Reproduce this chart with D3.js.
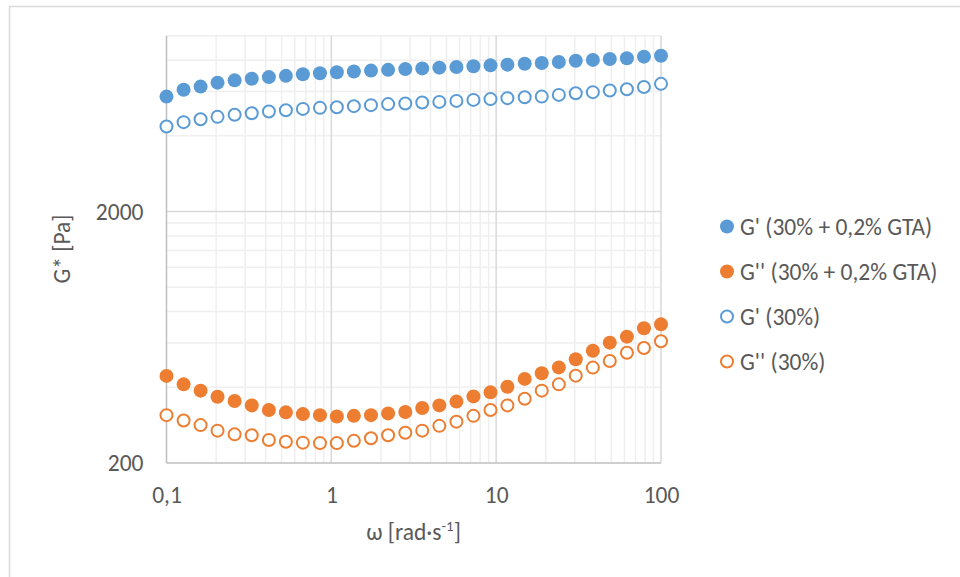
<!DOCTYPE html>
<html>
<head>
  <meta charset="utf-8">
  <title>G* vs omega</title>
  <script src="https://d3js.org/d3.v7.min.js"></script>
  <style>
    body { margin: 0; background: #fff; font-family: Carlito, Lato, sans-serif; }
    text { fill: #595959; font-size: 23.5px; }
    .grid-minor { stroke: #efefef; stroke-width: 1.5; }
    .grid-major { stroke: #d9d9d9; stroke-width: 1.5; }
    .axis-line { stroke: #bfbfbf; stroke-width: 1.5; }
  </style>
</head>
<body>
  <div id="chart"></div>
  <script>
    // frequency (rad/s)
    const omega = [0.1, 0.127, 0.161, 0.204, 0.259, 0.329, 0.418, 0.530, 0.672, 0.853,
                   1.08, 1.37, 1.74, 2.21, 2.81, 3.56, 4.52, 5.74, 7.28, 9.24,
                   11.7, 14.9, 18.9, 24.0, 30.4, 38.6, 48.9, 62.1, 78.8, 100];

    const gStorageGta = [5730, 6100, 6280, 6510, 6650, 6750, 6850, 6930, 7030, 7100,
                         7160, 7210, 7270, 7320, 7370, 7420, 7470, 7510, 7570, 7630,
                         7680, 7740, 7790, 7870, 7960, 8020, 8090, 8140, 8260, 8330];
    const gLossGta = [444, 411, 388, 367, 353, 339, 325, 318, 313, 310,
                      306, 308, 310, 315, 319, 331, 339, 351, 368, 382,
                      402, 432, 455, 480, 517, 559, 602, 636, 687, 712];
    const gStorage = [4360, 4535, 4660, 4760, 4850, 4920, 5000, 5060, 5120, 5170,
                      5200, 5250, 5300, 5350, 5380, 5430, 5460, 5510, 5560, 5600,
                      5650, 5700, 5730, 5820, 5910, 5970, 6060, 6130, 6260, 6440];
    const gLoss = [310, 295, 283, 269, 260, 258, 247, 243, 241, 240,
                   240, 245, 251, 258, 264, 269, 281, 292, 308, 325,
                   339, 360, 388, 411, 445, 479, 509, 549, 573, 610];

    const seriesNames = ["G' (30% + 0,2% GTA)", "G'' (30% + 0,2% GTA)", "G' (30%)", "G'' (30%)"];
    const seriesValues = [gStorageGta, gLossGta, gStorage, gLoss];
    const seriesColors = ["#5b9bd5", "#ed7d31", "#5b9bd5", "#ed7d31"];
    const seriesFilled = [true, true, false, false];

    const xTicks = [0.1, 1, 10, 100];
    const xTickLabels = ["0,1", "1", "10", "100"];
    const yTicks = [200, 2000];
    const yTickLabels = ["200", "2000"];
    const xMinor = [0.2, 0.3, 0.4, 0.5, 0.6, 0.7, 0.8, 0.9, 2, 3, 4, 5, 6, 7, 8, 9, 20, 30, 40, 50, 60, 70, 80, 90];
    const yMinor = [400, 600, 800, 1000, 1200, 1400, 1600, 1800, 4000, 6000, 8000, 10000];

    const W = 960, H = 577;
    const plot = {left: 166.5, right: 661, top: 35.8, bottom: 463};

    const svg = d3.select("#chart").append("svg")
      .attr("width", W)
      .attr("height", H);

    // chart border (right/bottom run off the picture)
    svg.append("path")
      .attr("d", `M9.5,${H + 5}V6.5H${W + 5}`)
      .attr("fill", "none")
      .attr("stroke", "#d9d9d9")
      .attr("stroke-width", 1.5);

    const x = d3.scaleLog().domain([0.1, 100]).range([plot.left, plot.right]);
    const y = d3.scaleLog().domain([200, 10000]).range([plot.bottom, plot.top]);

    // gridlines
    const grid = svg.append("g");
    grid.selectAll(".gx-minor").data(xMinor).join("line")
      .attr("class", "grid-minor")
      .attr("x1", d => x(d)).attr("x2", d => x(d))
      .attr("y1", plot.top).attr("y2", plot.bottom);
    grid.selectAll(".gy-minor").data(yMinor).join("line")
      .attr("class", "grid-minor")
      .attr("x1", plot.left).attr("x2", plot.right)
      .attr("y1", d => y(d)).attr("y2", d => y(d));
    grid.selectAll(".gx-major").data(xTicks.slice(1)).join("line")
      .attr("class", "grid-major")
      .attr("x1", d => x(d)).attr("x2", d => x(d))
      .attr("y1", plot.top).attr("y2", plot.bottom);
    grid.selectAll(".gy-major").data(yTicks.slice(1)).join("line")
      .attr("class", "grid-major")
      .attr("x1", plot.left).attr("x2", plot.right)
      .attr("y1", d => y(d)).attr("y2", d => y(d));

    // axes
    const xAxis = d3.axisBottom(x)
      .tickValues(xTicks)
      .tickFormat((d, i) => xTickLabels[i])
      .tickSize(0)
      .tickPadding(23);
    const gx = svg.append("g")
      .attr("transform", `translate(0,${plot.bottom})`)
      .call(xAxis);
    gx.select(".domain").attr("class", "axis-line").attr("d", `M${plot.left},0H${plot.right}`);

    const yAxis = d3.axisLeft(y)
      .tickValues(yTicks)
      .tickFormat((d, i) => yTickLabels[i])
      .tickSize(0)
      .tickPadding(23);
    const gy = svg.append("g")
      .attr("transform", `translate(${plot.left},0)`)
      .call(yAxis);
    gy.select(".domain").attr("class", "axis-line").attr("d", `M0,${plot.top}V${plot.bottom}`);

    svg.selectAll(".tick text")
      .attr("fill", "#595959")
      .style("font-size", "23.5px")
      .style("font-family", "Carlito, Lato, sans-serif");

    // markers
    seriesValues.forEach((vals, s) => {
      svg.append("g").selectAll("circle")
        .data(vals.map((v, i) => [omega[i], v]))
        .join("circle")
          .attr("cx", d => x(d[0]))
          .attr("cy", d => y(d[1]))
          .attr("r", seriesFilled[s] ? 7 : 6)
          .attr("fill", seriesFilled[s] ? seriesColors[s] : "#fff")
          .attr("stroke", seriesFilled[s] ? "none" : seriesColors[s])
          .attr("stroke-width", 2);
    });

    // axis titles
    svg.append("text")
      .attr("transform", "translate(70,249) rotate(-90)")
      .attr("text-anchor", "middle")
      .text("G* [Pa]");

    const xt = svg.append("text")
      .attr("x", 413.5)
      .attr("y", 540)
      .attr("text-anchor", "middle");
    xt.append("tspan").text("ω [rad·s");
    xt.append("tspan").attr("baseline-shift", "super").style("font-size", "15px").text("-1");
    xt.append("tspan").text("]");

    // legend
    const legend = svg.append("g");
    seriesNames.forEach((name, i) => {
      const ly = 226.5 + i * 45;
      legend.append("circle")
        .attr("cx", 727).attr("cy", ly)
        .attr("r", seriesFilled[i] ? 7 : 6)
        .attr("fill", seriesFilled[i] ? seriesColors[i] : "#fff")
        .attr("stroke", seriesFilled[i] ? "none" : seriesColors[i])
        .attr("stroke-width", 2);
      legend.append("text")
        .attr("x", 740).attr("y", ly)
        .attr("dy", "0.35em")
        .text(name);
    });
  </script>
</body>
</html>
